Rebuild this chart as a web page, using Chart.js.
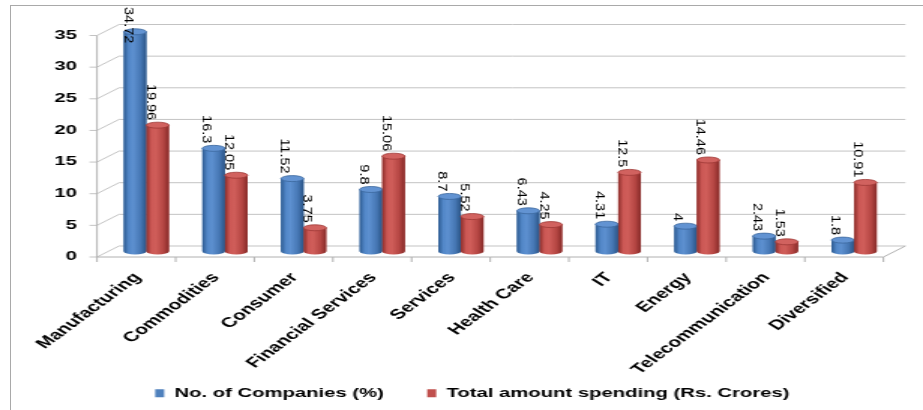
<!DOCTYPE html>
<html>
<head>
<meta charset="utf-8">
<title>CSR spending by sector</title>
<script src="https://cdn.jsdelivr.net/npm/chart.js@4.4.1/dist/chart.umd.min.js"></script>
<style>
  html, body { margin: 0; padding: 0; background: #fff; overflow: hidden; }
  #wrap { position: relative; width: 923px; height: 410px; }
  #frame { position: absolute; left: 10px; top: 5px; width: 1000px; height: 500px; border: 1px solid #a9a9a9; }
  #c { position: absolute; left: 0; top: 0; }
</style>
</head>
<body>
<div id="wrap">
  <div id="frame"></div>
  <!-- drawn narrow, shown wide: the whole chart is stretched sideways -->
  <canvas id="c" width="615" height="410" style="width:923px;height:410px"></canvas>
</div>
<script>
const categories = ['Manufacturing', 'Commodities', 'Consumer', 'Financial Services', 'Services',
  'Health Care', 'IT', 'Energy', 'Telecommunication', 'Diversified'];
const companies = [34.72, 16.3, 11.52, 9.8, 8.7, 6.43, 4.31, 4, 2.43, 1.8];
const spending = [19.96, 12.05, 3.75, 15.06, 5.52, 4.25, 12.5, 14.46, 1.53, 10.91];
const seriesNames = ['No. of Companies (%)', 'Total amount spending (Rs. Crores)'];
const yMin = 0, yMax = 35, yStep = 5;

const STRETCH = 923 / 615;
// pseudo-3D: bars sit mid-depth, axes on the front plane, grid on the back wall
const FRONT = { dx: -10 / STRETCH, dy: 5.5 };
const BACK = { dx: 12 / STRETCH, dy: -5.5 };
const FONT = '"Liberation Sans", Arial, sans-serif';

const SHADES = [
  { fill: '#4f81bd', top: '#6293d2', rim: '#3b679d',
    stops: [[0, '#2c5a90'], [0.22, '#5287c8'], [0.42, '#5d90d0'], [0.75, '#4677b4'], [1, '#2a5486']] },
  { fill: '#c0504d', top: '#d1625f', rim: '#9e3936',
    stops: [[0, '#8c2d2a'], [0.22, '#cc5855'], [0.42, '#d05e5a'], [0.75, '#b54643'], [1, '#862a28']] }
];

// the long rotated category names run past the axis box; let them show in full
const roomForLabels = {
  id: 'roomForLabels',
  afterLayout(chart) {
    chart.scales.x.bottom = chart.height;
  }
};

const walls = {
  id: 'walls',
  beforeDatasetsDraw(chart) {
    const { ctx, chartArea: a, scales: { y } } = chart;
    const fl = a.left + FRONT.dx, fr = a.right + FRONT.dx;
    const bl = a.left + BACK.dx, br = a.right + BACK.dx;
    ctx.save();
    ctx.lineWidth = 1;
    ctx.strokeStyle = '#c3c3c3';
    y.ticks.forEach(t => {
      const py = y.getPixelForValue(t.value);
      ctx.beginPath();
      ctx.moveTo(fl, py + FRONT.dy);
      ctx.lineTo(bl, py + BACK.dy);
      ctx.lineTo(br, py + BACK.dy);
      ctx.stroke();
      ctx.beginPath();
      ctx.moveTo(fl - 5, py + FRONT.dy);
      ctx.lineTo(fl, py + FRONT.dy);
      ctx.stroke();
    });
    const y0 = y.getPixelForValue(yMin), yTop = y.getPixelForValue(yMax);
    ctx.strokeStyle = '#b0b0b0';
    ctx.beginPath();
    ctx.moveTo(fl, yTop + FRONT.dy);
    ctx.lineTo(fl, y0 + FRONT.dy);
    ctx.lineTo(fr, y0 + FRONT.dy);
    ctx.lineTo(br, y0 + BACK.dy);
    ctx.stroke();
    const n = categories.length;
    for (let i = 0; i <= n; i++) {
      const px = fl + (fr - fl) * i / n;
      ctx.beginPath();
      ctx.moveTo(px, y0 + FRONT.dy);
      ctx.lineTo(px, y0 + FRONT.dy + 5);
      ctx.stroke();
    }
    ctx.restore();
  }
};

const cylinders = {
  id: 'cylinders',
  afterDatasetsDraw(chart) {
    const ctx = chart.ctx;
    chart.data.datasets.forEach((ds, di) => {
      const shade = SHADES[di];
      chart.getDatasetMeta(di).data.forEach(bar => {
        const { x, y, base, width } = bar.getProps(['x', 'y', 'base', 'width'], true);
        const l = x - width / 2, r = x + width / 2, rx = width / 2, ry = 3;
        const g = ctx.createLinearGradient(l, 0, r, 0);
        shade.stops.forEach(([o, c]) => g.addColorStop(o, c));
        ctx.save();
        ctx.fillStyle = g;
        ctx.beginPath();
        ctx.moveTo(l, y);
        ctx.lineTo(l, base);
        ctx.ellipse(x, base, rx, ry, 0, Math.PI, 0, true);
        ctx.lineTo(r, y);
        ctx.closePath();
        ctx.fill();
        ctx.beginPath();
        ctx.ellipse(x, y, rx, ry, 0, 0, Math.PI * 2);
        ctx.fillStyle = shade.top;
        ctx.fill();
        ctx.lineWidth = 0.8;
        ctx.strokeStyle = shade.rim;
        ctx.stroke();
        ctx.restore();
      });
    });
  }
};

// value labels, turned to read top-down, sitting just above each cylinder
const valueLabels = {
  id: 'valueLabels',
  afterDatasetsDraw(chart) {
    const ctx = chart.ctx;
    ctx.save();
    ctx.font = '14.5px ' + FONT;
    ctx.fillStyle = '#000';
    ctx.textAlign = 'left';
    ctx.textBaseline = 'middle';
    chart.data.datasets.forEach((ds, di) => {
      chart.getDatasetMeta(di).data.forEach((bar, i) => {
        const text = String(ds.data[i]);
        const len = ctx.measureText(text).width;
        const top = Math.max(7, bar.y - 5 - len);
        ctx.save();
        ctx.translate(bar.x - 7 / STRETCH, top);
        ctx.scale(0.68, 1);
        ctx.rotate(Math.PI / 2);
        ctx.fillText(text, 0, 0);
        ctx.restore();
      });
    });
    ctx.restore();
  }
};

new Chart(document.getElementById('c'), {
  type: 'bar',
  data: {
    labels: categories,
    datasets: [
      { label: seriesNames[0], data: companies, backgroundColor: SHADES[0].fill, borderWidth: 0 },
      { label: seriesNames[1], data: spending, backgroundColor: SHADES[1].fill, borderWidth: 0 }
    ]
  },
  options: {
    responsive: false,
    devicePixelRatio: 1,
    animation: false,
    datasets: { bar: { categoryPercentage: 0.575, barPercentage: 1 } },
    layout: { padding: { left: 34, right: 19.7, top: 30, bottom: 0 } },
    plugins: {
      tooltip: { enabled: false },
      legend: {
        position: 'bottom',
        labels: {
          color: '#000',
          font: { family: FONT, size: 13.5, weight: 'bold' },
          boxWidth: 6,
          boxHeight: 8,
          padding: 29
        }
      }
    },
    scales: {
      x: {
        grid: { display: false, drawTicks: false },
        border: { display: false },
        ticks: {
          color: '#000',
          font: { family: FONT, size: 14, weight: 'bold' },
          autoSkip: false,
          minRotation: 48,
          maxRotation: 48,
          padding: 18,
          labelOffset: -6
        },
        afterFit(s) { s.height = 106; }
      },
      y: {
        min: yMin,
        max: yMax,
        grid: { display: false, drawTicks: false },
        border: { display: false },
        ticks: {
          stepSize: yStep,
          color: '#000',
          font: { family: FONT, size: 13.5, weight: 'bold' },
          padding: 20,
          labelOffset: 5
        },
        afterFit(s) { s.width = 71.3 - 34; }
      }
    }
  },
  plugins: [roomForLabels, walls, cylinders, valueLabels]
});
</script>
</body>
</html>
